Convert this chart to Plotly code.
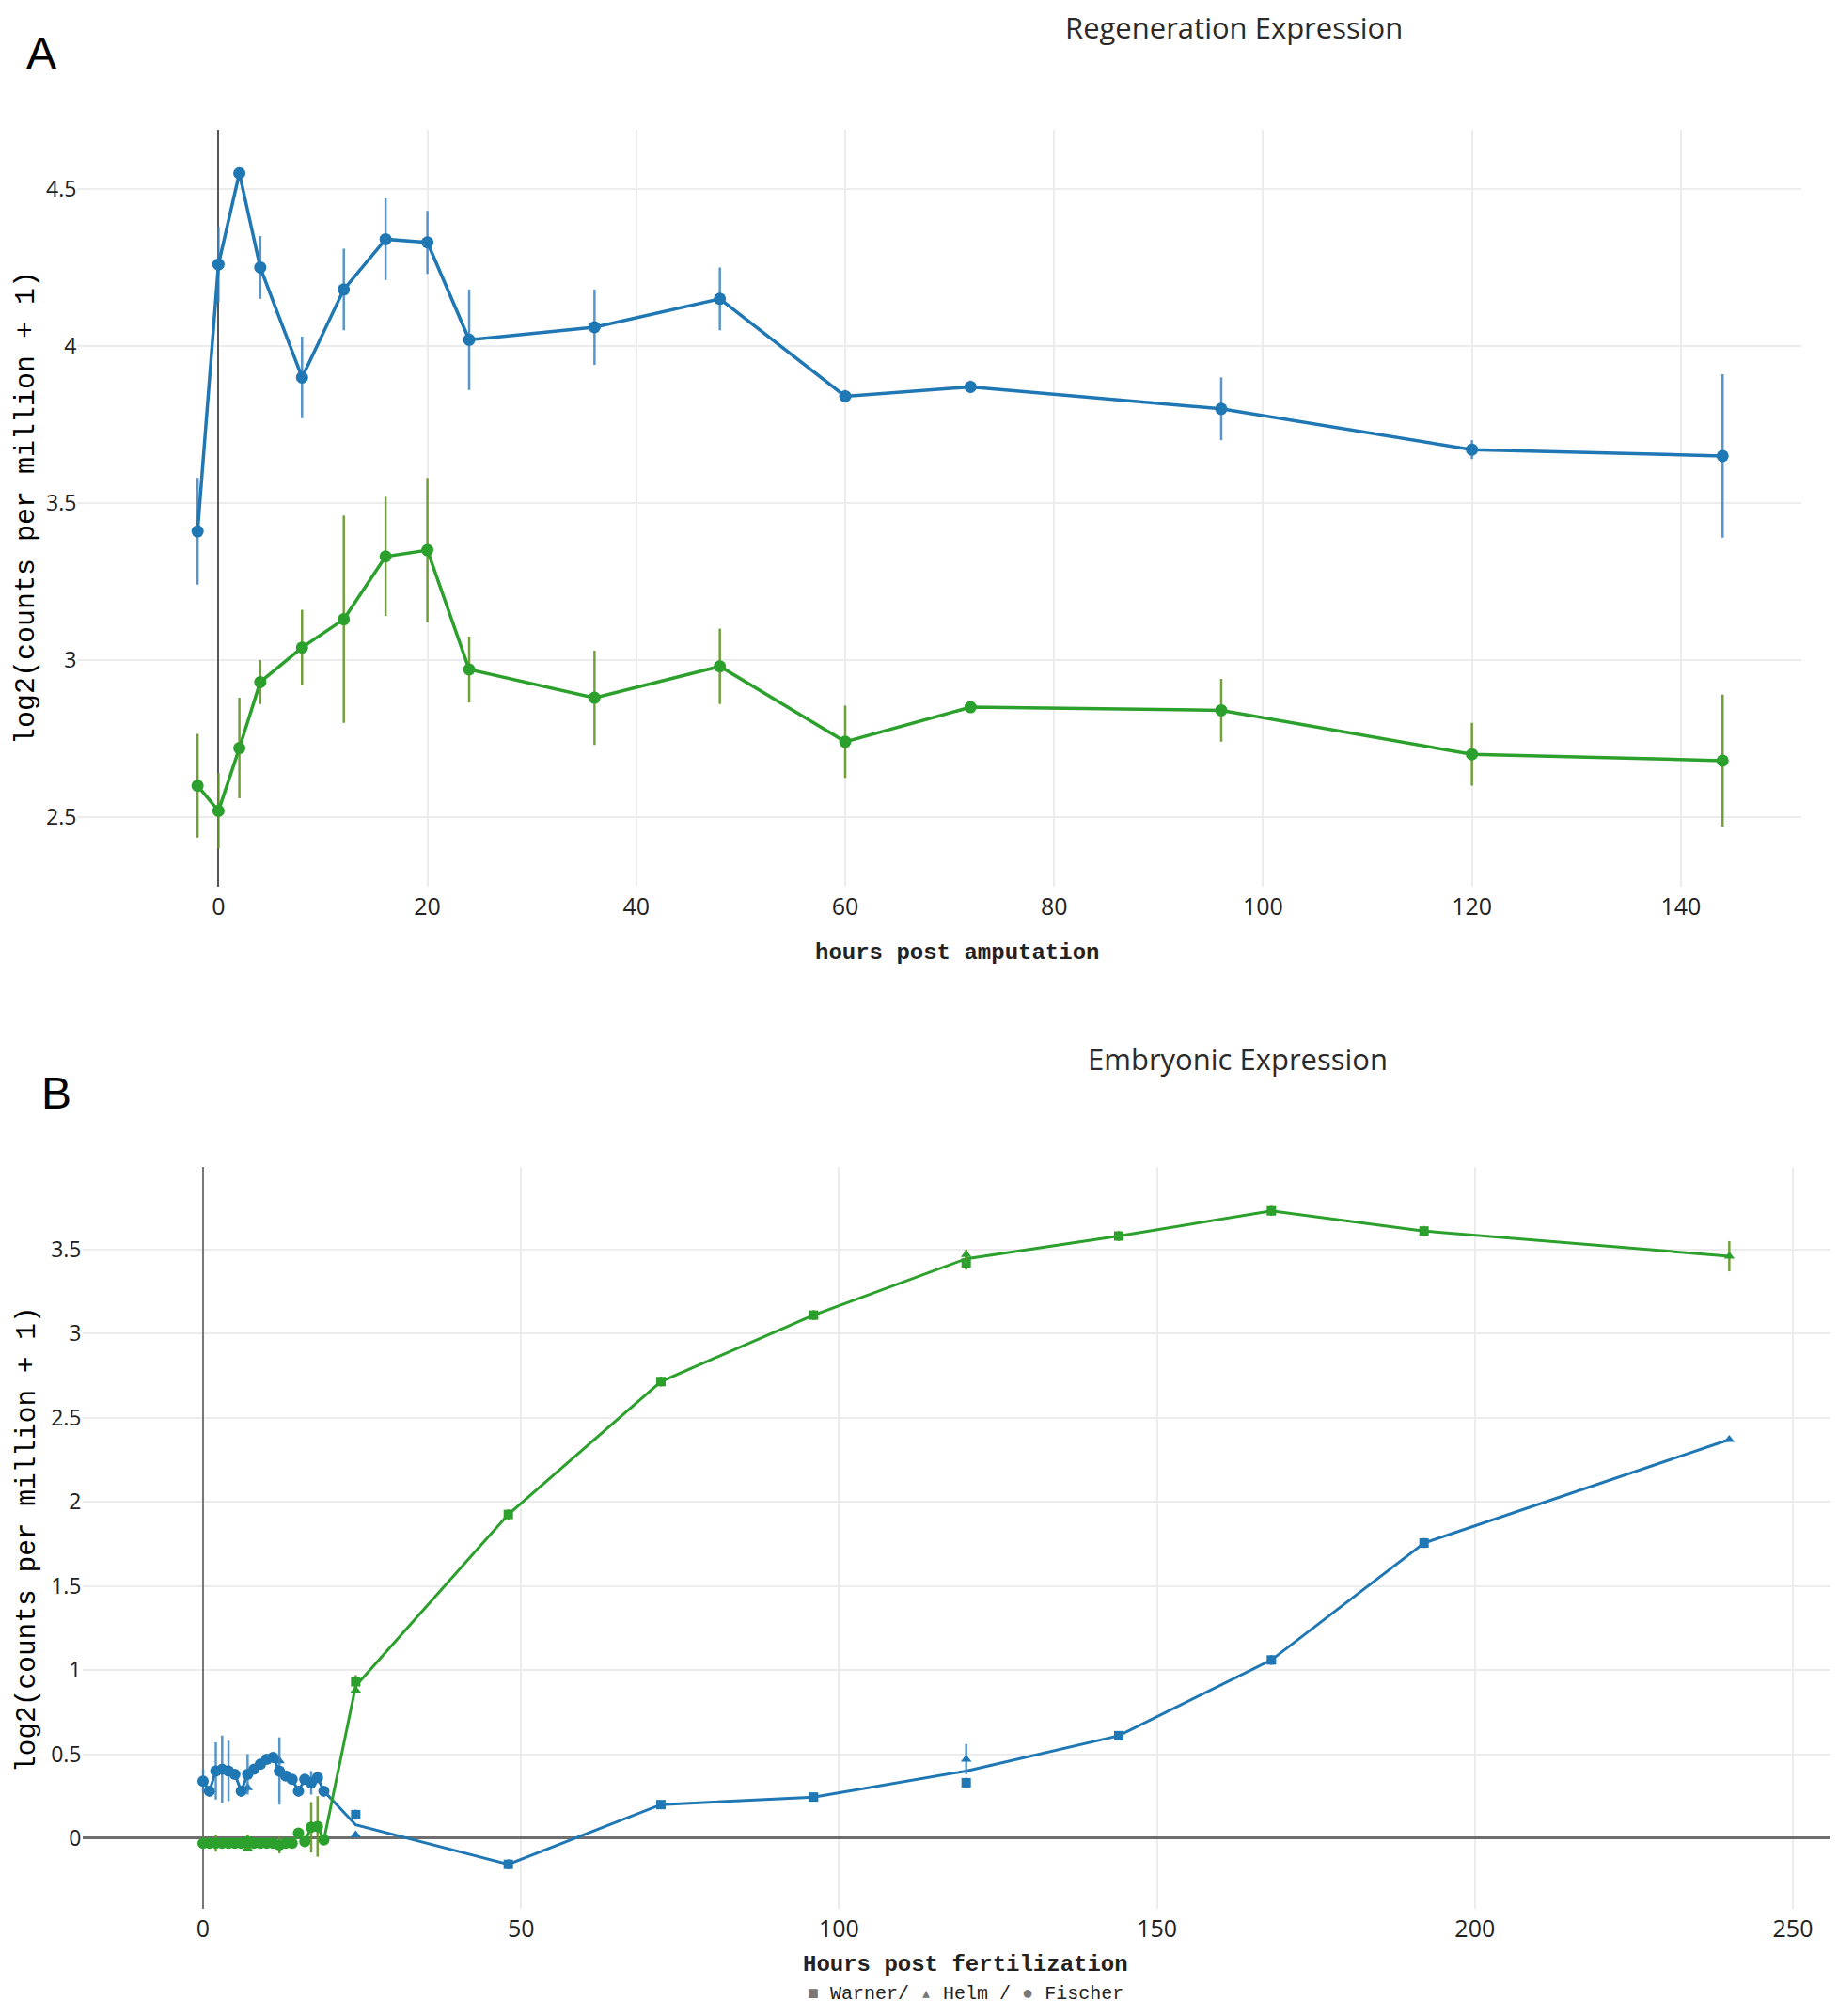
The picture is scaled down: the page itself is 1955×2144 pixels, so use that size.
import plotly.graph_objects as go

# ---------------- Panel A: regeneration ----------------
hpa = [-2, 0, 2, 4, 8, 12, 16, 20, 24, 36, 48, 60, 72, 96, 120, 144]
regen_blue = [3.41, 4.26, 4.55, 4.25, 3.90, 4.18, 4.34, 4.33, 4.02, 4.06, 4.15, 3.84, 3.87, 3.80, 3.67, 3.65]
regen_blue_err = [0.17, 0.12, 0.01, 0.10, 0.13, 0.13, 0.13, 0.10, 0.16, 0.12, 0.10, 0.02, 0.02, 0.10, 0.03, 0.26]
regen_green = [2.60, 2.52, 2.72, 2.93, 3.04, 3.13, 3.33, 3.35, 2.97, 2.88, 2.98, 2.74, 2.85, 2.84, 2.70, 2.68]
regen_green_err = [0.165, 0.12, 0.16, 0.07, 0.12, 0.33, 0.19, 0.23, 0.105, 0.15, 0.12, 0.115, 0.01, 0.10, 0.10, 0.21]

# ---------------- Panel B: embryonic ----------------
fischer_hpf = [0, 1, 2, 3, 4, 5, 6, 7, 8, 9, 10, 11, 12, 13, 14, 15, 16, 17, 18, 19]
fischer_blue = [0.34, 0.28, 0.40, 0.41, 0.40, 0.38, 0.28, 0.38, 0.41, 0.44, 0.47, 0.48, 0.40, 0.37, 0.35, 0.28, 0.35, 0.33, 0.36, 0.28]
fischer_blue_err = [0.07, 0.02, 0.17, 0.20, 0.18, 0.02, 0.02, 0.12, 0.02, 0.02, 0.02, 0.02, 0.20, 0.02, 0.02, 0.02, 0.02, 0.07, 0.02, 0.02]
fischer_green = [-0.03, -0.03, -0.03, -0.03, -0.03, -0.03, -0.03, -0.02, -0.03, -0.03, -0.03, -0.03, -0.04, -0.03, -0.03, 0.03, -0.02, 0.065, 0.07, -0.01]
fischer_green_err = [0.01, 0.01, 0.05, 0.01, 0.01, 0.01, 0.01, 0.04, 0.01, 0.01, 0.01, 0.01, 0.05, 0.01, 0.01, 0.02, 0.02, 0.15, 0.18, 0.02]

helm_hpf = [7, 12, 24, 120, 240]
helm_blue = [0.30, 0.46, 0.02, 0.47, 2.37]
helm_blue_err = [0.02, 0.02, 0.01, 0.09, 0.01]
helm_green = [-0.06, -0.04, 0.88, 3.47, 3.46]
helm_green_err = [0.01, 0.01, 0.01, 0.03, 0.09]

warner_hpf = [24, 48, 72, 96, 120, 144, 168, 192]
warner_blue = [0.14, -0.155, 0.20, 0.245, 0.33, 0.61, 1.06, 1.755]
warner_blue_err = [0.03, 0.03, 0.02, 0.02, 0.03, 0.02, 0.03, 0.03]
warner_green = [0.93, 1.925, 2.715, 3.11, 3.42, 3.58, 3.73, 3.61]
warner_green_err = [0.04, 0.03, 0.03, 0.03, 0.04, 0.03, 0.03, 0.03]

BLUE = "#1f77b4"
GREEN = "#2ca02c"
BLUE_ERR = "rgba(60,130,190,0.85)"
GREEN_ERR = "rgba(100,150,40,0.9)"

# page has an 8px body margin; figure occupies page pixels 8..1955 x 8..2136
OFF = 8
W, H = 1947, 2128


def px(xp):
    return (xp - OFF) / W


def py(yp):
    return 1 - (yp - OFF) / H


def mean_line(fh, fv, hh, hv, wh, wv):
    """Line through Fischer points early, then mean of Warner/Helm later."""
    pts = {t: [v] for t, v in zip(fh, fv)}
    later = {}
    for t, v in list(zip(hh, hv)) + list(zip(wh, wv)):
        if t in pts:
            continue
        later.setdefault(t, []).append(v)
    pts.update(later)
    xs = sorted(pts)
    ys = [sum(pts[t]) / len(pts[t]) for t in xs]
    return xs, ys


fig = go.Figure()

# Panel A traces
for ys, err, col, ecol in [(regen_blue, regen_blue_err, BLUE, BLUE_ERR),
                           (regen_green, regen_green_err, GREEN, GREEN_ERR)]:
    fig.add_trace(go.Scatter(
        x=hpa, y=ys, mode="lines+markers", xaxis="x", yaxis="y",
        line=dict(color=col, width=3.5),
        marker=dict(color=col, size=13, symbol="circle"),
        error_y=dict(type="data", array=err, visible=True, color=ecol,
                     thickness=2.5, width=0),
        showlegend=False))

# Panel B lines
for fv, hv, wv, col in [(fischer_blue, helm_blue, warner_blue, BLUE),
                        (fischer_green, helm_green, warner_green, GREEN)]:
    lx, ly = mean_line(fischer_hpf, fv, helm_hpf, hv, warner_hpf, wv)
    fig.add_trace(go.Scatter(x=lx, y=ly, mode="lines", xaxis="x2", yaxis="y2",
                             line=dict(color=col, width=3), showlegend=False))

# Panel B markers
for hx, ys, err, col, ecol, sym, sz in [
    (warner_hpf, warner_blue, warner_blue_err, BLUE, BLUE_ERR, "square", 10),
    (warner_hpf, warner_green, warner_green_err, GREEN, GREEN_ERR, "square", 10),
    (helm_hpf, helm_blue, helm_blue_err, BLUE, BLUE_ERR, "triangle-up", 10),
    (helm_hpf, helm_green, helm_green_err, GREEN, GREEN_ERR, "triangle-up", 10),
    (fischer_hpf, fischer_blue, fischer_blue_err, BLUE, BLUE_ERR, "circle", 12),
    (fischer_hpf, fischer_green, fischer_green_err, GREEN, GREEN_ERR, "circle", 12),
]:
    fig.add_trace(go.Scatter(
        x=hx, y=ys, mode="markers", xaxis="x2", yaxis="y2",
        marker=dict(color=col, size=sz, symbol=sym),
        error_y=dict(type="data", array=err, visible=True, color=ecol,
                     thickness=2.5, width=0),
        showlegend=False))

TICK_Y = dict(family="Open Sans, Verdana, sans-serif", size=23, color="#222")
TICK_X = dict(family="Open Sans, sans-serif", size=25, color="#222")
GRID = "#ececec"

# plot-area pixel boxes measured on the reference page
A_L, A_R, A_T, A_B = 82.4, 1915.6, 137.5, 942.5
B_L, B_R, B_T, B_B = 87.5, 1955.0, 1241.2, 2030.1

fig.update_layout(
    width=W, height=H,
    margin=dict(l=0, r=0, t=0, b=0),
    paper_bgcolor="white", plot_bgcolor="white",
    showlegend=False,
    xaxis=dict(domain=[px(A_L), px(A_R)], range=[-13.5, 151.5], anchor="y",
               tick0=0, dtick=20, showgrid=True, gridcolor=GRID, gridwidth=1.5,
               zeroline=True, zerolinecolor="#555", zerolinewidth=2,
               showline=False, ticks="", tickfont=TICK_X, ticklabelstandoff=4),
    yaxis=dict(domain=[py(A_B), py(A_T)], range=[2.28, 4.69], anchor="x",
               tick0=0, dtick=0.5, showgrid=True, gridcolor=GRID, gridwidth=1.5,
               zeroline=False, showline=False, ticks="", tickfont=TICK_Y),
    xaxis2=dict(domain=[px(B_L), min(1.0, px(B_R))], range=[-19, 257.1], anchor="y2",
                tick0=0, dtick=50, showgrid=True, gridcolor=GRID, gridwidth=1.5,
                zeroline=True, zerolinecolor="#777", zerolinewidth=2,
                showline=False, ticks="", tickfont=TICK_X, ticklabelstandoff=4),
    yaxis2=dict(domain=[py(B_B), py(B_T)], range=[-0.42, 3.99], anchor="x2",
                tick0=0, dtick=0.5, showgrid=True, gridcolor=GRID, gridwidth=1.5,
                zeroline=True, zerolinecolor="#6e6e6e", zerolinewidth=3,
                showline=False, ticks="", tickfont=TICK_Y),
)

TITLE_FONT = dict(family="Open Sans, sans-serif", size=31, color="#2a2a2a")
MONO = "Liberation Mono, Courier New, monospace"
LABEL_FONT = dict(family="Liberation Sans, Arial, sans-serif", size=48, color="black")
LEG_FONT = dict(family=MONO, size=20, color="#222")

annotations = [
    dict(text="Regeneration Expression", x=px(1312), y=py(29), font=TITLE_FONT),
    dict(text="Embryonic Expression", x=px(1316), y=py(1126), font=TITLE_FONT),
    dict(text="A", x=px(44), y=py(57), font=LABEL_FONT),
    dict(text="B", x=px(60), y=py(1162), font=LABEL_FONT),
    dict(text="log2(counts per million + 1)", x=px(28), y=py(540), textangle=-90,
         font=dict(family=MONO, size=30, color="#000")),
    dict(text="log2(counts per million + 1)", x=px(29), y=py(1637), textangle=-90,
         font=dict(family=MONO, size=29.5, color="#000")),
    dict(text="<b>hours post amputation</b>", x=px(1018.5), y=py(1013),
         font=dict(family=MONO, size=24, color="#222")),
    dict(text="<b>Hours post fertilization</b>", x=px(1026.6), y=py(2089),
         font=dict(family=MONO, size=24, color="#222")),
    dict(text="<span style='color:#777'>■</span> Warner/ <span style='color:#777'>▴</span> Helm / <span style='color:#777'>●</span> Fischer",
         x=px(1026.6), y=py(2120), font=LEG_FONT),
]
for a in annotations:
    a.update(xref="paper", yref="paper", xanchor="center", yanchor="middle",
             showarrow=False)
fig.update_layout(annotations=annotations)

fig.write_html("out.html")
